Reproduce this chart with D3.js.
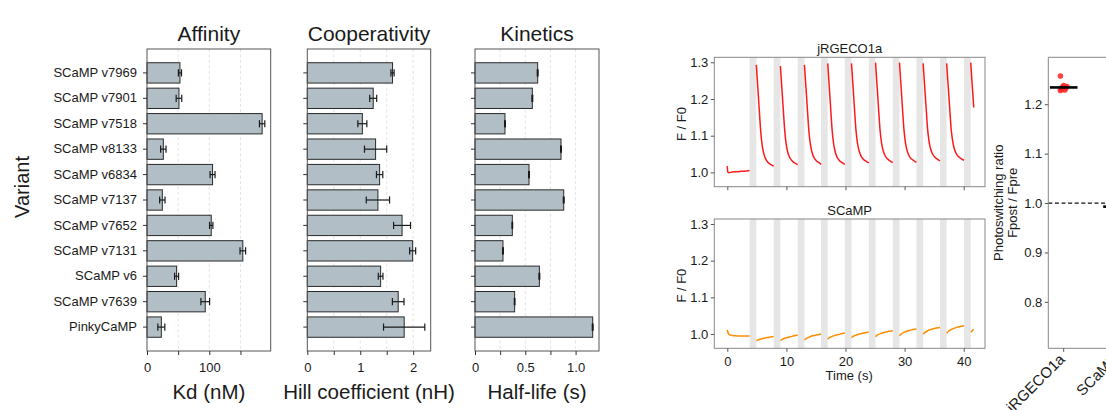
<!DOCTYPE html>
<html>
<head>
<meta charset="utf-8">
<script src="https://cdn.jsdelivr.net/npm/d3@7"></script>
<style>
  body { margin: 0; background: #fff; }
  svg text { font-family: "Liberation Sans", Arial, Helvetica, sans-serif; fill: #1a1a1a; }
</style>
</head>
<body>
<svg id="fig" width="1106" height="410"></svg>
<script>
// ---------- bar panels: affinity / cooperativity / kinetics ----------
const variants = ["SCaMP v7969", "SCaMP v7901", "SCaMP v7518", "SCaMP v8133", "SCaMP v6834",
  "SCaMP v7137", "SCaMP v7652", "SCaMP v7131", "SCaMP v6", "SCaMP v7639", "PinkyCaMP"];

const kdValues = [52.9, 51.3, 184.8, 26.2, 105.2, 24.6, 103.1, 153.8, 47.5, 93.5, 23.0];
const kdErrors = [2.5, 4.5, 4.3, 4.3, 4.0, 4.3, 2.7, 4.5, 3.2, 7.0, 5.6];
const kdTicks = [0, 50, 100, 150];
const kdTickLabels = ["0", "", "100", ""];

const hillValues = [1.61, 1.245, 1.04, 1.29, 1.366, 1.334, 1.79, 1.99, 1.385, 1.717, 1.83];
const hillErrors = [0.03, 0.066, 0.085, 0.21, 0.06, 0.22, 0.16, 0.057, 0.044, 0.11, 0.39];
const hillTicks = [0, 0.5, 1, 1.5, 2];
const hillTickLabels = ["0", "", "1", "", "2"];

const halfLifeValues = [0.623, 0.57, 0.298, 0.855, 0.537, 0.882, 0.371, 0.278, 0.64, 0.394, 1.17];
const halfLifeErrors = [0.004, 0.004, 0.004, 0.004, 0.004, 0.004, 0.003, 0.004, 0.004, 0.003, 0.004];
const halfLifeTicks = [0, 0.25, 0.5, 0.75, 1.0];
const halfLifeTickLabels = ["0", "", "0.5", "", "1.0"];

// ---------- photoswitching traces ----------
const stimOnsets = [3.78, 7.85, 11.92, 15.86, 19.88, 23.95, 28.0, 32.0, 35.98, 40.05];
const stimDuration = 1.13;
const timeTicks = [0, 10, 20, 30, 40];
const ratioTicks = [1.0, 1.1, 1.2, 1.3];

const jrgecoTrace = [
  [[0, 1.017], [0.08, 1.001], [0.3, 0.999], [0.8, 1.001], [1.3, 1.002], [1.8, 1.002], [2.3, 1.003], [2.8, 1.003], [3.3, 1.004], [3.78, 1.005]],
  [[4.91, 1.293], [5.16, 1.232], [5.41, 1.170], [5.66, 1.110], [5.91, 1.073], [6.16, 1.052], [6.51, 1.036], [6.91, 1.027], [7.41, 1.021], [7.85, 1.017]],
  [[8.98, 1.290], [9.23, 1.230], [9.48, 1.169], [9.73, 1.111], [9.98, 1.075], [10.23, 1.055], [10.58, 1.040], [10.98, 1.031], [11.48, 1.025], [11.92, 1.021]],
  [[13.05, 1.293], [13.3, 1.233], [13.55, 1.172], [13.8, 1.113], [14.05, 1.077], [14.3, 1.057], [14.65, 1.041], [15.05, 1.032], [15.55, 1.026], [15.86, 1.022]],
  [[16.99, 1.297], [17.24, 1.236], [17.49, 1.174], [17.74, 1.114], [17.99, 1.078], [18.24, 1.057], [18.59, 1.041], [18.99, 1.032], [19.49, 1.026], [19.88, 1.022]],
  [[21.01, 1.297], [21.26, 1.237], [21.51, 1.176], [21.76, 1.117], [22.01, 1.081], [22.26, 1.061], [22.61, 1.045], [23.01, 1.036], [23.51, 1.030], [23.95, 1.026]],
  [[25.08, 1.299], [25.33, 1.238], [25.58, 1.177], [25.83, 1.118], [26.08, 1.082], [26.33, 1.062], [26.68, 1.046], [27.08, 1.037], [27.58, 1.031], [28.0, 1.027]],
  [[29.13, 1.299], [29.38, 1.238], [29.63, 1.177], [29.88, 1.118], [30.13, 1.082], [30.38, 1.062], [30.73, 1.046], [31.13, 1.037], [31.63, 1.031], [32.0, 1.027]],
  [[33.13, 1.297], [33.38, 1.238], [33.63, 1.178], [33.88, 1.120], [34.13, 1.085], [34.38, 1.065], [34.73, 1.050], [35.13, 1.041], [35.63, 1.035], [35.98, 1.031]],
  [[37.11, 1.297], [37.36, 1.238], [37.61, 1.179], [37.86, 1.121], [38.11, 1.087], [38.36, 1.067], [38.71, 1.052], [39.11, 1.043], [39.61, 1.037], [40.05, 1.033]],
  [[41.18, 1.299], [41.44, 1.237], [41.7, 1.177]]
];

const scampTrace = [
  [[0, 1.011], [0.1, 1.004], [0.3, 0.999], [0.6, 0.997], [1.0, 0.9955], [1.5, 0.995], [2.0, 0.9945], [3.0, 0.9943], [3.78, 0.9945]],
  [[4.91, 0.982], [5.3, 0.9842], [6.0, 0.9875], [6.9, 0.9905], [7.85, 0.993]],
  [[8.98, 0.9825], [9.3, 0.9855], [10.0, 0.990], [10.9, 0.9935], [11.92, 0.997]],
  [[13.05, 0.984], [13.4, 0.988], [14.0, 0.9925], [14.9, 0.9965], [15.86, 1.000]],
  [[16.99, 0.986], [17.3, 0.990], [18.0, 0.995], [18.9, 0.999], [19.88, 1.003]],
  [[21.01, 0.990], [21.3, 0.9935], [22.0, 0.998], [22.9, 1.002], [23.95, 1.0055]],
  [[25.08, 0.9927], [25.4, 0.9975], [26.1, 1.002], [27.0, 1.006], [28.0, 1.009]],
  [[29.13, 0.9955], [29.45, 1.0005], [30.1, 1.006], [31.0, 1.0105], [32.0, 1.0136]],
  [[33.13, 0.999], [33.45, 1.0045], [34.1, 1.0105], [35.0, 1.015], [35.98, 1.018]],
  [[37.11, 1.002], [37.45, 1.008], [38.1, 1.014], [39.0, 1.019], [40.05, 1.0227]],
  [[41.18, 1.0045], [41.45, 1.009], [41.7, 1.013]]
];

// ---------- photoswitching ratio summary ----------
const sensors = ["jRGECO1a", "SCaMP"];
const jrgecoRatios = [1.257, 1.238, 1.236, 1.235, 1.233, 1.231, 1.229, 1.228];
const scampRatios = [0.990, 0.992, 0.993, 0.9925, 0.994, 0.995];
const ratioAxisTicks = [0.8, 0.9, 1.0, 1.1, 1.2];

const svg = d3.select("#fig");
const FONT_TICK = 13;

function styleAxis(g, strokeColor) {
  g.select(".domain").remove();
  g.selectAll(".tick line").attr("stroke", strokeColor).attr("stroke-width", 1);
  g.selectAll(".tick text").attr("font-size", FONT_TICK).attr("fill", "#1a1a1a")
    .style("font-family", "'Liberation Sans', Arial, sans-serif");
}

// ===== bar panels =====
const barTop = 49, barBottom = 351;
const yBand = d3.scaleBand().domain(variants).range([barTop, barBottom])
  .paddingInner(0.2).paddingOuter(0.54);

function barPanel(opt) {
  const g = svg.append("g");
  const xmax = d3.max(opt.values, (v, i) => v + opt.errors[i]) * 1.05;
  const x = d3.scaleLinear().domain([0, xmax]).range([opt.left, opt.right]);

  g.selectAll("line.grid").data(opt.ticks.filter(t => t > 0)).join("line")
    .attr("class", "grid")
    .attr("x1", d => x(d)).attr("x2", d => x(d))
    .attr("y1", barTop).attr("y2", barBottom)
    .attr("stroke", "#dcdcdc").attr("stroke-width", 0.8).attr("stroke-dasharray", "3,2.5");

  g.selectAll("rect.bar").data(variants).join("rect")
    .attr("class", "bar")
    .attr("x", x(0)).attr("y", d => yBand(d))
    .attr("width", (d, i) => x(opt.values[i]) - x(0))
    .attr("height", yBand.bandwidth())
    .attr("fill", "#b1bec5").attr("stroke", "#2a2a2a").attr("stroke-width", 1);

  const eg = g.selectAll("g.err").data(variants).join("g").attr("class", "err");
  const cy = d => yBand(d) + yBand.bandwidth() / 2;
  eg.append("line")
    .attr("x1", (d, i) => x(opt.values[i] - opt.errors[i]))
    .attr("x2", (d, i) => x(opt.values[i] + opt.errors[i]))
    .attr("y1", cy).attr("y2", cy)
    .attr("stroke", "#1a1a1a").attr("stroke-width", 1.2);
  [-1, 1].forEach(s => {
    eg.append("line")
      .attr("x1", (d, i) => x(opt.values[i] + s * opt.errors[i]))
      .attr("x2", (d, i) => x(opt.values[i] + s * opt.errors[i]))
      .attr("y1", d => cy(d) - 3.6).attr("y2", d => cy(d) + 3.6)
      .attr("stroke", "#1a1a1a").attr("stroke-width", 1.2);
  });

  g.append("rect")
    .attr("x", opt.left).attr("y", barTop)
    .attr("width", opt.right - opt.left).attr("height", barBottom - barTop)
    .attr("fill", "none").attr("stroke", "#555").attr("stroke-width", 1);

  const xa = g.append("g").attr("transform", `translate(0,${barBottom})`)
    .call(d3.axisBottom(x).tickValues(opt.ticks)
      .tickFormat((d, i) => opt.tickLabels[i]).tickSize(4).tickPadding(8));
  styleAxis(xa, "#333");

  const ya = g.append("g").attr("transform", `translate(${opt.left},0)`)
    .call(d3.axisLeft(yBand).tickSize(4).tickPadding(6)
      .tickFormat(opt.showNames ? (d => d) : () => ""));
  styleAxis(ya, "#333");

  g.append("text").attr("x", (opt.left + opt.right) / 2).attr("y", 40.7)
    .attr("text-anchor", "middle").attr("font-size", 21).text(opt.title);
  g.append("text").attr("x", (opt.left + opt.right) / 2).attr("y", 399)
    .attr("text-anchor", "middle").attr("font-size", 20.5).text(opt.label);
}

barPanel({ left: 147, right: 270.7, title: "Affinity", label: "Kd (nM)",
  values: kdValues, errors: kdErrors, ticks: kdTicks, tickLabels: kdTickLabels, showNames: true });
barPanel({ left: 307.3, right: 430.7, title: "Cooperativity", label: "Hill coefficient (nH)",
  values: hillValues, errors: hillErrors, ticks: hillTicks, tickLabels: hillTickLabels, showNames: false });
barPanel({ left: 475, right: 599, title: "Kinetics", label: "Half-life (s)",
  values: halfLifeValues, errors: halfLifeErrors, ticks: halfLifeTicks, tickLabels: halfLifeTickLabels, showNames: false });

svg.append("text").attr("transform", "translate(29,187) rotate(-90)")
  .attr("text-anchor", "middle").attr("font-size", 20).text("Variant");

// ===== trace panels =====
const traceLeft = 714.3, traceRight = 985;
const xTime = d3.scaleLinear().domain([-2.2, 43.6]).range([traceLeft, traceRight]);

function tracePanel(opt) {
  const g = svg.append("g");
  const y = d3.scaleLinear().domain([0.961, 1.3136]).range([opt.bottom, opt.top]);

  g.selectAll("rect.stim").data(stimOnsets).join("rect")
    .attr("class", "stim")
    .attr("x", d => xTime(d)).attr("width", xTime(stimDuration) - xTime(0))
    .attr("y", opt.top).attr("height", opt.bottom - opt.top)
    .attr("fill", "#e6e6e6");

  const line = d3.line().x(d => xTime(d[0])).y(d => y(d[1])).curve(d3.curveMonotoneX);
  g.selectAll("path.trace").data(opt.segments).join("path")
    .attr("class", "trace")
    .attr("d", line).attr("fill", "none")
    .attr("stroke", opt.color).attr("stroke-width", 1.5);

  g.append("rect").attr("x", traceLeft).attr("y", opt.top)
    .attr("width", traceRight - traceLeft).attr("height", opt.bottom - opt.top)
    .attr("fill", "none").attr("stroke", "#888").attr("stroke-width", 1);

  const ya = g.append("g").attr("transform", `translate(${traceLeft},0)`)
    .call(d3.axisLeft(y).tickValues(ratioTicks).tickFormat(d3.format(".1f")).tickSize(3.5).tickPadding(2.5));
  styleAxis(ya, "#555");

  const xa = g.append("g").attr("transform", `translate(0,${opt.bottom})`)
    .call(d3.axisBottom(xTime).tickValues(timeTicks)
      .tickFormat(opt.showTime ? d3.format("d") : () => "").tickSize(3.5).tickPadding(4.5));
  styleAxis(xa, "#555");

  g.append("text").attr("x", (traceLeft + traceRight) / 2).attr("y", opt.top - 4.3)
    .attr("text-anchor", "middle").attr("font-size", 13).text(opt.title);
  g.append("text").attr("transform", `translate(686,${(opt.top + opt.bottom) / 2 + 2}) rotate(-90)`)
    .attr("text-anchor", "middle").attr("font-size", 13).text("F / F0");
  if (opt.showTime) {
    g.append("text").attr("x", (traceLeft + traceRight) / 2 - 0.5).attr("y", 379.5)
      .attr("text-anchor", "middle").attr("font-size", 13).text("Time (s)");
  }
}

tracePanel({ top: 57.3, bottom: 186.7, title: "jRGECO1a", segments: jrgecoTrace, color: "#ff1a1a", showTime: false });
tracePanel({ top: 219, bottom: 348.3, title: "SCaMP", segments: scampTrace, color: "#ff8c00", showTime: true });

// ===== photoswitching ratio panel =====
(function ratioPanel() {
  const top = 57.3, bottom = 348.3, left = 1048.3, right = 1170;
  const g = svg.append("g");
  const y = d3.scaleLinear().domain([0.706, 1.295]).range([bottom, top]);
  const x = d3.scalePoint().domain(sensors).range([1063.7, 1117]);

  g.append("line").attr("x1", left).attr("x2", right).attr("y1", y(1)).attr("y2", y(1))
    .attr("stroke", "#111").attr("stroke-width", 1.2).attr("stroke-dasharray", "4,2.6");

  const groups = [
    { name: "jRGECO1a", vals: jrgecoRatios, color: "#ff2020" },
    { name: "SCaMP", vals: scampRatios, color: "#ff8c00" }
  ];
  groups.forEach(grp => {
    g.selectAll(null).data(grp.vals).join("circle")
      .attr("cx", (d, i) => x(grp.name) + ((i * 3) % 7 - 3) * 1.1)
      .attr("cy", d => y(d)).attr("r", 2.8)
      .attr("fill", grp.color).attr("fill-opacity", 0.85);
    const med = d3.median(grp.vals);
    g.append("line").attr("x1", x(grp.name) - 13.8).attr("x2", x(grp.name) + 13.8)
      .attr("y1", y(med)).attr("y2", y(med))
      .attr("stroke", "#000").attr("stroke-width", 2.6);
  });

  g.append("path").attr("d", `M${right},${top}H${left}V${bottom}H${right}`)
    .attr("fill", "none").attr("stroke", "#888").attr("stroke-width", 1);

  const ya = g.append("g").attr("transform", `translate(${left},0)`)
    .call(d3.axisLeft(y).tickValues(ratioAxisTicks).tickFormat(d3.format(".1f")).tickSize(3.5).tickPadding(2.5));
  styleAxis(ya, "#555");

  g.selectAll("line.xt").data(sensors).join("line").attr("class", "xt")
    .attr("x1", d => x(d)).attr("x2", d => x(d)).attr("y1", bottom).attr("y2", bottom + 3.5)
    .attr("stroke", "#555");
  g.selectAll("text.xl").data(sensors).join("text").attr("class", "xl")
    .attr("transform", d => `translate(${x(d) + 2},${bottom + 12}) rotate(-45)`)
    .attr("text-anchor", "end").attr("font-size", 15).text(d => d);

  const yl = g.append("text").attr("transform", `translate(1002.5,${(top + bottom) / 2}) rotate(-90)`)
    .attr("text-anchor", "middle").attr("font-size", 13);
  yl.append("tspan").attr("x", 0).attr("dy", 0).text("Photoswitching ratio");
  yl.append("tspan").attr("x", 0).attr("dy", 14.5).text("Fpost / Fpre");
})();
</script>
</body>
</html>
